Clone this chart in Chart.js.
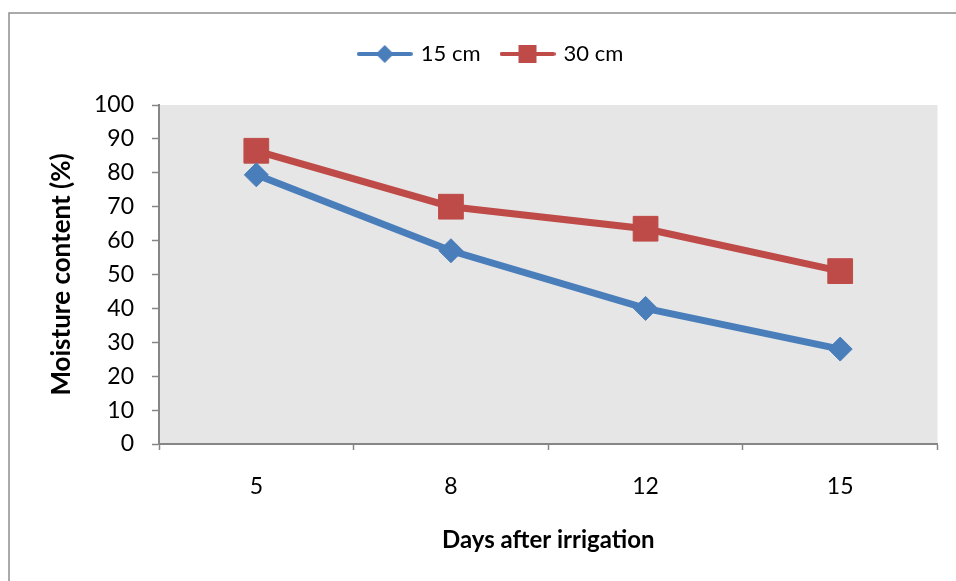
<!DOCTYPE html>
<html>
<head>
<meta charset="utf-8">
<script src="https://cdn.jsdelivr.net/npm/chart.js@4/dist/chart.umd.min.js"></script>
<style>
html,body{margin:0;padding:0;background:#fff;}
#wrap{width:956px;height:581px;position:relative;}
</style>
</head>
<body>
<div id="wrap"><canvas id="c" width="956" height="581"></canvas></div>
<script>
const categories = ['5', '8', '12', '15'];
const series15cm = [79.4, 57.0, 40.0, 28.0];
const series30cm = [86.5, 70.0, 63.5, 51.0];
const seriesNames = ['15 cm', '30 cm'];
const xTitle = 'Days after irrigation';
const yTitle = 'Moisture content (%)';
const yMin = 0, yMax = 100, yStep = 10;

const BLUE = '#4a7ebb';
const RED = '#be4b48';
const FONT = 'Lato, "Open Sans", sans-serif';

function legendIcon(color, shape) {
  const cv = document.createElement('canvas');
  cv.width = 56; cv.height = 22;
  const g = cv.getContext('2d');
  g.strokeStyle = color; g.lineWidth = 4; g.lineCap = 'round';
  g.beginPath(); g.moveTo(2, 11); g.lineTo(54, 11); g.stroke();
  g.fillStyle = color;
  if (shape === 'diamond') {
    g.beginPath(); g.moveTo(28, 2); g.lineTo(37, 11); g.lineTo(28, 20); g.lineTo(19, 11); g.closePath(); g.fill();
  } else {
    g.fillRect(19, 2, 18, 18);
  }
  return cv;
}
const icons = [legendIcon(BLUE, 'diamond'), legendIcon(RED, 'square')];

const bgPlugin = {
  id: 'bg',
  beforeDraw(chart) {
    const ctx = chart.ctx;
    ctx.save();
    ctx.fillStyle = '#fff';
    ctx.fillRect(0, 0, chart.width, chart.height);
    ctx.strokeStyle = '#8e8e8e';
    ctx.lineWidth = 1.5;
    ctx.strokeRect(9, 13, 2000, 2000);
    const a = chart.chartArea;
    ctx.fillStyle = '#e6e6e6';
    ctx.fillRect(a.left, a.top, a.right - a.left, a.bottom - a.top);
    ctx.restore();
  }
};

const legendGap = {
  id: 'legendGap',
  beforeInit(chart) {
    const fitOrig = chart.legend.fit;
    chart.legend.fit = function () {
      fitOrig.bind(chart.legend)();
      this.height += 30;
    };
  }
};

new Chart(document.getElementById('c'), {
  type: 'line',
  data: {
    labels: categories,
    datasets: [
      {
        label: seriesNames[0], data: series15cm,
        borderColor: BLUE, backgroundColor: BLUE, borderWidth: 7,
        pointStyle: 'rectRot', pointRadius: 12, pointBorderWidth: 1,
        pointBackgroundColor: BLUE, pointBorderColor: BLUE,
        tension: 0, fill: false
      },
      {
        label: seriesNames[1], data: series30cm,
        borderColor: RED, backgroundColor: RED, borderWidth: 7,
        pointStyle: 'rect', pointRadius: 17.5, pointBorderWidth: 1,
        pointBackgroundColor: RED, pointBorderColor: RED,
        tension: 0, fill: false
      }
    ]
  },
  options: {
    responsive: false,
    animation: false,
    devicePixelRatio: 1,
    layout: { padding: { left: 44, right: 17, top: 21, bottom: 0 } },
    plugins: {
      tooltip: { enabled: false },
      legend: {
        position: 'top',
        labels: {
          usePointStyle: true,
          pointStyleWidth: 50,
          padding: 22,
          color: '#000',
          font: { family: FONT, size: 22 },
          generateLabels(chart) {
            const items = Chart.defaults.plugins.legend.labels.generateLabels(chart);
            items.forEach((it, i) => { it.pointStyle = icons[i]; });
            return items;
          }
        }
      }
    },
    scales: {
      x: {
        offset: true,
        afterFit(s) { s.height = 137; },
        grid: { offset: true, drawOnChartArea: false, drawTicks: true, tickLength: 6, tickColor: '#868686', tickWidth: 1.5 },
        border: { color: '#868686', width: 2 },
        ticks: { color: '#000', font: { family: FONT, size: 23 }, padding: 23 },
        title: { display: true, text: xTitle, color: '#000', font: { family: FONT, size: 24, weight: 'bold' }, padding: { top: 0, bottom: 26 } }
      },
      y: {
        min: yMin, max: yMax,
        afterFit(s) { s.width = 115; },
        grid: { drawOnChartArea: false, drawTicks: true, tickLength: 7, tickColor: '#868686', tickWidth: 1.5 },
        border: { color: '#868686', width: 2 },
        ticks: { stepSize: yStep, color: '#000', font: { family: FONT, size: 23 }, padding: 18 },
        title: { display: true, text: yTitle, color: '#000', font: { family: FONT, size: 26, weight: 'bold' }, padding: { top: 2, bottom: 0 } }
      }
    }
  },
  plugins: [bgPlugin, legendGap]
});
</script>
</body>
</html>
